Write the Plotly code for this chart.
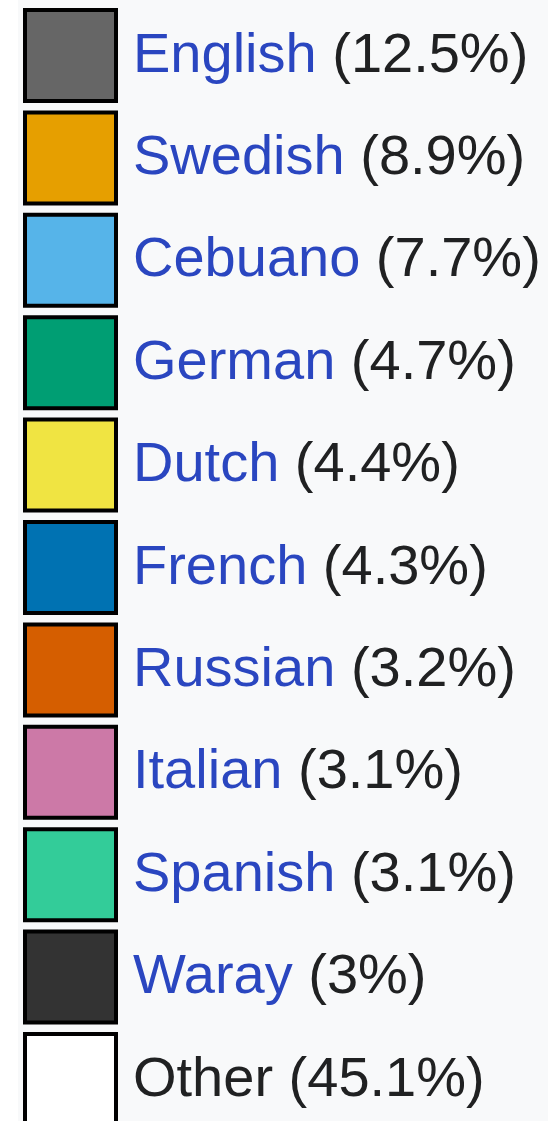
import plotly.graph_objects as go

languages = ["English", "Swedish", "Cebuano", "German", "Dutch", "French",
             "Russian", "Italian", "Spanish", "Waray", "Other"]
shares = [12.5, 8.9, 7.7, 4.7, 4.4, 4.3, 3.2, 3.1, 3.1, 3.0, 45.1]
colors = ["#666666", "#E69F00", "#56B4E9", "#009E73", "#F0E442", "#0072B2",
          "#D55E00", "#CC79A7", "#33CC99", "#333333", "#FFFFFF"]
linked = [True] * 10 + [False]

W, H = 548, 1121
STEP = 102.4          # px per row
FIRST_CENTER = 55.5   # px of first row centre
LINK = "#2a46c0"
DARK = "#202122"
FONT = "Liberation Sans, Arial, sans-serif"

idx = list(range(len(languages)))

def fmt(v):
    s = f"{v:.1f}"
    return s[:-2] if s.endswith(".0") else s

fig = go.Figure()
fig.add_trace(go.Scatter(
    x=[70.5] * len(idx), y=idx, mode="markers",
    marker=dict(symbol="square", size=91, color=colors,
                line=dict(color="#000000", width=4)),
    hoverinfo="skip", showlegend=False,
))

for i, (name, v, lk) in enumerate(zip(languages, shares, linked)):
    label = (f"<span style='color:{LINK}'>{name}</span>" if lk else name) + f" ({fmt(v)}%)"
    fig.add_annotation(x=130.8, y=i, xref="x", yref="y", text=label,
                       showarrow=False, xanchor="left", yanchor="middle",
                       yshift=3.4, font=dict(family=FONT, size=56, color=DARK))

top = -FIRST_CENTER / STEP
bottom = top + H / STEP
fig.update_layout(
    width=W, height=H, margin=dict(l=0, r=0, t=0, b=0),
    paper_bgcolor="#FFFFFF", plot_bgcolor="#F8F9FA",
    xaxis=dict(range=[18, W], domain=[18 / W, 1], visible=False, fixedrange=True),
    yaxis=dict(range=[bottom, top], visible=False, fixedrange=True),
    showlegend=False,
)
fig.write_html("out.html", config={"displayModeBar": False},
               post_script="document.body.style.margin='0';document.body.style.overflow='hidden';")
